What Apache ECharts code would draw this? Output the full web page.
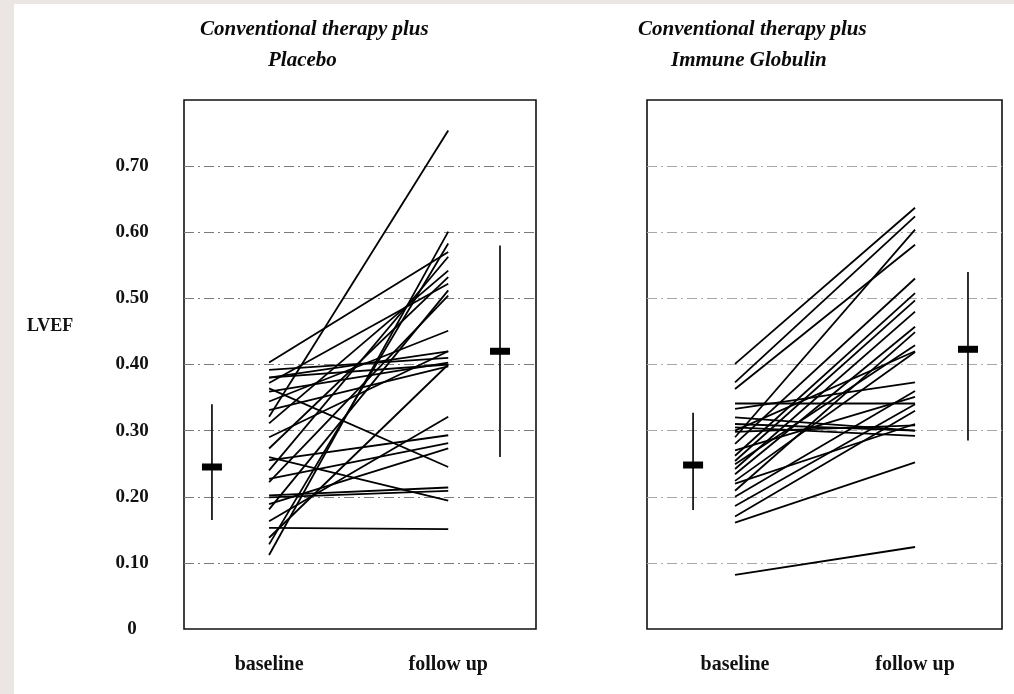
<!DOCTYPE html>
<html>
<head>
<meta charset="utf-8">
<script src="https://cdn.jsdelivr.net/npm/echarts@6/dist/echarts.min.js"></script>
<style>
  html, body { margin: 0; padding: 0; background: #ffffff; }
  #edgeL { position: absolute; left: 0; top: 0; width: 14px; height: 694px; background: #ebe5e3; }
  #edgeT { position: absolute; left: 0; top: 0; width: 1014px; height: 4px; background: #ebe5e3; }
  #chart { position: absolute; left: 0; top: 0; width: 1014px; height: 694px; }
</style>
</head>
<body>
<div id="edgeL"></div>
<div id="edgeT"></div>
<div id="chart"></div>
<script>
// Visit labels and LVEF tick labels
const stages = ['baseline', 'follow up'];
const lvefTicks = [0, 0.1, 0.2, 0.3, 0.4, 0.5, 0.6, 0.7];
const placeboTitle = ['Conventional therapy plus', 'Placebo'];
const globulinTitle = ['Conventional therapy plus', 'Immune Globulin'];

// Individual patients, placebo arm (baseline -> follow up)
const placeboBaseline = [0.403, 0.392, 0.380, 0.380, 0.372, 0.364, 0.359, 0.344, 0.331, 0.321,
                         0.311, 0.290, 0.273, 0.260, 0.255, 0.240, 0.227, 0.222, 0.202, 0.199,
                         0.189, 0.181, 0.163, 0.153, 0.138, 0.128, 0.112];
const placeboFollowUp = [0.570, 0.410, 0.400, 0.420, 0.522, 0.245, 0.403, 0.451, 0.397, 0.754,
                         0.542, 0.420, 0.532, 0.194, 0.293, 0.563, 0.281, 0.504, 0.214, 0.209,
                         0.273, 0.512, 0.321, 0.151, 0.400, 0.583, 0.601];

// Individual patients, immune globulin arm
const globulinBaseline = [0.401, 0.373, 0.363, 0.341, 0.333, 0.310, 0.305, 0.298, 0.290, 0.280,
                          0.262, 0.254, 0.249, 0.242, 0.234, 0.224, 0.209, 0.186, 0.161, 0.082,
                          0.270, 0.300, 0.320, 0.220, 0.200, 0.170];
const globulinFollowUp = [0.637, 0.624, 0.581, 0.341, 0.373, 0.300, 0.292, 0.308, 0.604, 0.530,
                          0.508, 0.497, 0.429, 0.480, 0.457, 0.419, 0.449, 0.340, 0.252, 0.124,
                          0.351, 0.420, 0.300, 0.310, 0.360, 0.330];

// Group mean and spread at each visit
const placeboMean = [0.245, 0.420];
const placeboLow  = [0.165, 0.260];
const placeboHigh = [0.340, 0.580];
const globulinMean = [0.248, 0.423];
const globulinLow  = [0.180, 0.285];
const globulinHigh = [0.327, 0.540];

const serif = '"Liberation Serif", "DejaVu Serif", serif';

// Panel geometry: x axis runs in visit units (baseline = 1, follow up = 2)
const panels = [
  { left: 184, width: 352, xMin: 0.525, xMax: 2.49, sumX: [0.681, 2.289],
    base: placeboBaseline, follow: placeboFollowUp,
    mean: placeboMean, low: placeboLow, high: placeboHigh },
  { left: 647, width: 355, xMin: 0.511, xMax: 2.483, sumX: [0.767, 2.294],
    base: globulinBaseline, follow: globulinFollowUp,
    mean: globulinMean, low: globulinLow, high: globulinHigh }
];

const grids = [], xAxes = [], yAxes = [], series = [];

panels.forEach((p, i) => {
  grids.push({ left: p.left, top: 100, width: p.width, height: 529,
               show: true, borderColor: '#111', borderWidth: 1.6, backgroundColor: 'transparent' });
  xAxes.push({
    type: 'value', gridIndex: i, min: p.xMin, max: p.xMax,
    axisLine: { show: false }, axisTick: { show: false }, splitLine: { show: false },
    axisLabel: {
      customValues: [1, 2],
      formatter: v => stages[Math.round(v) - 1],
      fontFamily: serif, fontWeight: 'bold', fontSize: 20, color: '#111', margin: 26
    }
  });
  yAxes.push({
    type: 'value', gridIndex: i, min: 0, max: 0.8, interval: 0.1,
    axisLine: { show: false }, axisTick: { show: false },
    splitLine: { show: true, showMinLine: false, showMaxLine: false,
                 lineStyle: { color: i === 0 ? '#7a7a7a' : '#a8a8a8', width: 1.1, type: [10, 4, 2, 4] } },
    axisLabel: i === 0 ? {
      customValues: lvefTicks,
      formatter: v => (v === 0 ? '0' : v.toFixed(2)),
      align: 'center', margin: 52,
      fontFamily: serif, fontWeight: 'bold', fontSize: 19, color: '#111'
    } : { show: false }
  });

  // one segment per patient
  p.base.forEach((b, k) => {
    series.push({
      type: 'line', xAxisIndex: i, yAxisIndex: i, symbol: 'none', silent: true,
      data: [[1, b], [2, p.follow[k]]],
      lineStyle: { color: '#000', width: 1.8 }
    });
  });

  // spread bars and mean markers
  [0, 1].forEach(k => {
    series.push({
      type: 'line', xAxisIndex: i, yAxisIndex: i, symbol: 'none', silent: true,
      data: [[p.sumX[k], p.low[k]], [p.sumX[k], p.high[k]]],
      lineStyle: { color: '#1a1a1a', width: 1.8 }
    });
  });
  series.push({
    type: 'scatter', xAxisIndex: i, yAxisIndex: i, silent: true,
    symbol: 'rect', symbolSize: [20, 7],
    data: [[p.sumX[0], p.mean[0]], [p.sumX[1], p.mean[1]]],
    itemStyle: { color: '#000', opacity: 1 }, z: 5
  });
});

const titleStyle = { fontFamily: serif, fontWeight: 'bold', fontStyle: 'italic', fontSize: 21, fill: '#0a0a0a' };

const chart = echarts.init(document.getElementById('chart'), null, { renderer: 'canvas' });
chart.setOption({
  animation: false,
  grid: grids,
  xAxis: xAxes,
  yAxis: yAxes,
  series: series,
  graphic: [
    { type: 'text', left: 200, top: 19, style: Object.assign({ text: placeboTitle[0] }, titleStyle) },
    { type: 'text', left: 268, top: 50, style: Object.assign({ text: placeboTitle[1] }, titleStyle) },
    { type: 'text', left: 638, top: 19, style: Object.assign({ text: globulinTitle[0] }, titleStyle) },
    { type: 'text', left: 671, top: 50, style: Object.assign({ text: globulinTitle[1] }, titleStyle) },
    { type: 'text', left: 27, top: 317, style: { text: 'LVEF', fontFamily: serif, fontWeight: 'bold', fontSize: 18, fill: '#111' } }
  ]
});
</script>
</body>
</html>
